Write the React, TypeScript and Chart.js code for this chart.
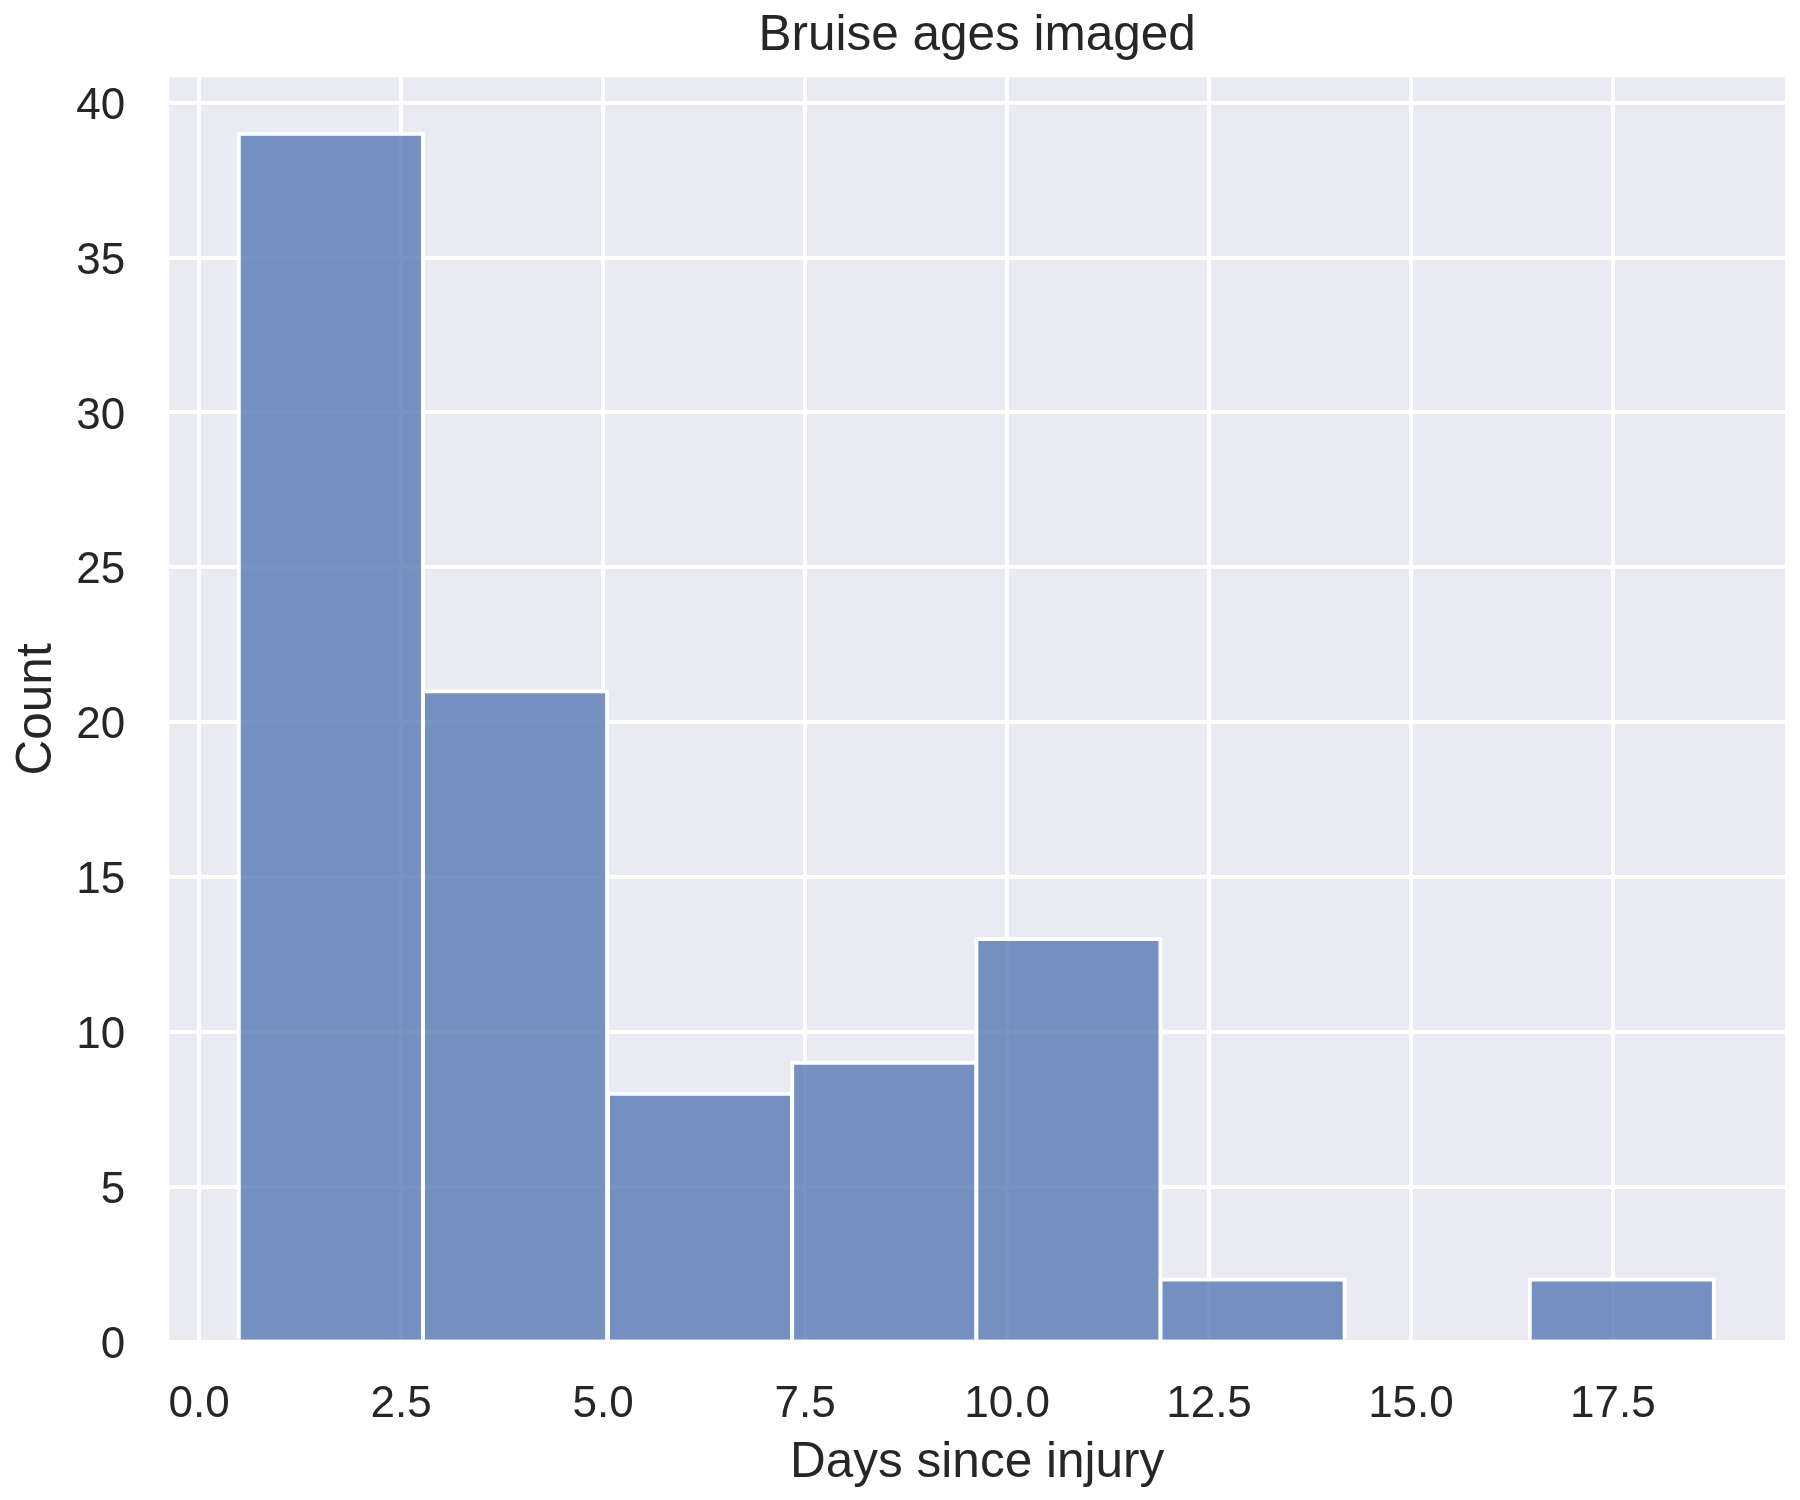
import { useEffect, useRef } from 'react';
import { Chart, registerables } from 'chart.js';

Chart.register(...registerables);

// histogram bins (days since injury) and counts per bin
const binCenters = [1.63, 3.91, 6.2, 8.48, 10.76, 13.04, 15.33, 17.61];
const counts = [39, 21, 8, 9, 13, 2, 0, 2];
const xTicks = [0, 2.5, 5, 7.5, 10, 12.5, 15, 17.5];
const yTicks = [0, 5, 10, 15, 20, 25, 30, 35, 40];

const TEXT = '#262626';
const FONT = "'Liberation Sans', Arial, sans-serif";

const bgPlugin = {
  id: 'plotBg',
  beforeDraw(chart: any) {
    const { ctx, chartArea } = chart;
    ctx.save();
    ctx.fillStyle = '#EAEAF2';
    ctx.fillRect(chartArea.left, chartArea.top, chartArea.right - chartArea.left, chartArea.bottom - chartArea.top);
    ctx.restore();
  },
  // bars are 75% opaque in the original, so the grid shows faintly through them
  afterDatasetsDraw(chart: any) {
    const { ctx, chartArea, scales } = chart;
    ctx.save();
    ctx.beginPath();
    ctx.rect(chartArea.left, chartArea.top, chartArea.right - chartArea.left, chartArea.bottom - chartArea.top);
    ctx.clip();
    ctx.strokeStyle = 'rgba(255,255,255,0.04)';
    ctx.lineWidth = 4;
    ctx.beginPath();
    xTicks.forEach((v) => {
      const px = Math.round(scales.x.getPixelForValue(v));
      ctx.moveTo(px, chartArea.top);
      ctx.lineTo(px, chartArea.bottom);
    });
    yTicks.forEach((v) => {
      const py = Math.round(scales.y.getPixelForValue(v));
      ctx.moveTo(chartArea.left, py);
      ctx.lineTo(chartArea.right, py);
    });
    ctx.stroke();
    ctx.restore();
  },
};

export default function App() {
  const chartRef = useRef<HTMLCanvasElement>(null);

  useEffect(() => {
    if (!chartRef.current) return;

    const chart = new Chart(chartRef.current, {
      type: 'bar',
      data: {
        datasets: [{
          label: 'Count',
          data: binCenters.map((x, i) => ({ x, y: counts[i] })),
          backgroundColor: (c: any) => (c.raw && c.raw.y === 0 ? 'rgba(0,0,0,0)' : 'rgb(116, 144, 193)'),
          borderColor: '#ffffff',
          borderWidth: 4,
          inflateAmount: 2,
          barPercentage: 1,
          categoryPercentage: 1,
        }],
      },
      options: {
        responsive: false,
        animation: false,
        devicePixelRatio: 1,
        layout: { padding: { left: 0, right: 15, top: 0, bottom: 0 } },
        plugins: {
          legend: { display: false },
          tooltip: { enabled: false },
          title: {
            display: true,
            text: 'Bruise ages imaged',
            fullSize: false,
            color: TEXT,
            font: { family: FONT, size: 49.5, weight: 'normal' },
            padding: { top: 6.3, bottom: 11.6 },
          },
        },
        scales: {
          x: {
            type: 'linear',
            min: -0.37,
            max: 19.63,
            offset: false,
            afterFit: (s: any) => { s.height = 158.5; },
            afterBuildTicks: (s: any) => { s.ticks = xTicks.map((value) => ({ value })); },
            grid: { color: '#ffffff', lineWidth: 4, drawTicks: false, offset: false },
            border: { display: false },
            ticks: {
              color: TEXT,
              padding: 36.5,
              font: { family: FONT, size: 44 },
              callback: (v: any) => Number(v).toFixed(1),
            },
            title: {
              display: true,
              text: 'Days since injury',
              color: TEXT,
              font: { family: FONT, size: 49.5 },
              padding: { top: 0, bottom: 6.6 },
            },
          },
          y: {
            type: 'linear',
            min: 0,
            max: 40.82,
            afterFit: (s: any) => { s.width = 169.3; },
            afterBuildTicks: (s: any) => { s.ticks = yTicks.map((value) => ({ value })); },
            grid: { color: '#ffffff', lineWidth: 4, drawTicks: false },
            border: { display: false },
            ticks: {
              color: TEXT,
              padding: 44,
              labelOffset: 4,
              font: { family: FONT, size: 44 },
              callback: (v: any) => String(v),
            },
            title: {
              display: true,
              text: 'Count',
              color: TEXT,
              font: { family: FONT, size: 49.5 },
              padding: { top: 8, bottom: 0 },
            },
          },
        },
      },
      plugins: [bgPlugin],
    });

    return () => chart.destroy();
  }, []);

  return (
    <div style={{ position: 'absolute', left: 0, top: 0, width: 1800, height: 1500, background: '#ffffff' }}>
      <canvas ref={chartRef} width={1800} height={1500} />
    </div>
  );
}
